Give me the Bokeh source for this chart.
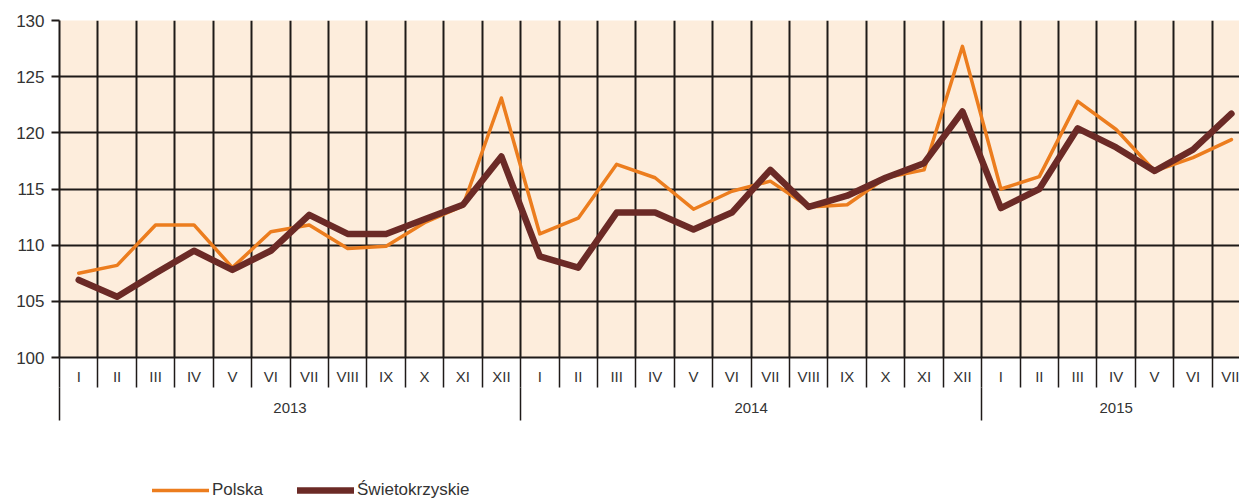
from bokeh.plotting import figure
from bokeh.layouts import column
from bokeh.models import Range1d, FixedTicker, LinearAxis, Legend, LegendItem, Grid
from bokeh.embed import file_html
from bokeh.resources import INLINE

# ---- data ----
month_names = ["I", "II", "III", "IV", "V", "VI", "VII", "VIII", "IX", "X", "XI", "XII"]
months = month_names * 2 + month_names[:7]
years = ["2013", "2014", "2015"]
year_lengths = [12, 12, 7]
polska = [107.5, 108.2, 111.8, 111.8, 108.0, 111.2, 111.8, 109.7, 109.9, 112.0, 113.5, 123.1,
          111.0, 112.4, 117.2, 116.0, 113.2, 114.8, 115.7, 113.4, 113.6, 116.0, 116.7, 127.7,
          115.0, 116.1, 122.8, 120.3, 116.6, 117.8, 119.4]
swietokrzyskie = [106.9, 105.4, 107.5, 109.5, 107.8, 109.5, 112.7, 111.0, 111.0, 112.3, 113.6, 117.9,
                  109.0, 108.0, 112.9, 112.9, 111.4, 112.9, 116.7, 113.4, 114.4, 116.0, 117.3, 121.9,
                  113.3, 115.0, 120.4, 118.7, 116.6, 118.5, 121.7]
y_ticks = [100, 105, 110, 115, 120, 125, 130]
series_names = ["Polska", "Świetokrzyskie"]
series_colors = ["#EC7D1E", "#6B2A26"]
series_widths = [3.5, 6.5]

n = len(months)
xc = [i + 0.5 for i in range(n)]
bounds = list(range(n))

year_starts, year_centers = [], []
s = 0
for L in year_lengths:
    year_starts.append(s)
    c = s + L / 2
    year_centers.append(int(c) if c == int(c) else c)
    s += L

FONT = "Liberation Sans"
TXT = "#333333"
GRID = "#1e1a18"

p = figure(width=1239, height=430, output_backend="svg", toolbar_location=None,
           x_range=Range1d(0, 30.71), y_range=Range1d(100, 130),
           min_border_left=59, min_border_right=0, min_border_top=20, min_border_bottom=73,
           x_axis_type=None)
p.background_fill_color = "#FDEDDC"
p.border_fill_color = "white"
p.outline_line_color = None

# y axis
p.yaxis.ticker = FixedTicker(ticks=y_ticks)
p.yaxis.axis_line_color = GRID
p.yaxis.axis_line_width = 2
p.yaxis.major_tick_out = 8
p.yaxis.major_tick_in = 0
p.yaxis.major_tick_line_color = GRID
p.yaxis.major_tick_line_width = 2
p.yaxis.minor_tick_line_color = None
p.yaxis.major_label_standoff = 7
p.yaxis.major_label_text_font = FONT
p.yaxis.major_label_text_font_size = "17px"
p.yaxis.major_label_text_color = TXT

# month axis (labels at centres, separators as minor ticks at boundaries)
month_axis = LinearAxis(ticker=FixedTicker(ticks=xc, minor_ticks=bounds),
                        major_label_overrides={x: m for x, m in zip(xc, months)})
month_axis.axis_line_color = GRID
month_axis.axis_line_width = 2
month_axis.major_tick_out = 0
month_axis.major_tick_in = 0
month_axis.major_tick_line_color = None
month_axis.minor_tick_out = 30
month_axis.minor_tick_in = 0
month_axis.minor_tick_line_color = GRID
month_axis.minor_tick_line_width = 1.5
month_axis.major_label_standoff = -20
month_axis.major_label_text_font = FONT
month_axis.major_label_text_font_size = "15px"
month_axis.major_label_text_color = TXT
p.add_layout(month_axis, "below")

# year axis
year_axis = LinearAxis(ticker=FixedTicker(ticks=year_centers, minor_ticks=year_starts),
                       major_label_overrides={x: y for x, y in zip(year_centers, years)})
year_axis.axis_line_color = None
year_axis.major_tick_out = 0
year_axis.major_tick_in = 0
year_axis.major_tick_line_color = None
year_axis.minor_tick_out = 33
year_axis.minor_tick_in = 0
year_axis.minor_tick_line_color = GRID
year_axis.minor_tick_line_width = 1.5
year_axis.major_label_standoff = -18
year_axis.major_label_text_font = FONT
year_axis.major_label_text_font_size = "15px"
year_axis.major_label_text_color = TXT
p.add_layout(year_axis, "below")

# grids
p.add_layout(Grid(dimension=0, ticker=FixedTicker(ticks=bounds),
                  grid_line_color=GRID, grid_line_width=2))
p.ygrid.ticker = FixedTicker(ticks=y_ticks)
p.ygrid.grid_line_color = GRID
p.ygrid.grid_line_width = 2

# series lines
for vals, col, w in zip([polska, swietokrzyskie], series_colors, series_widths):
    p.line(xc, vals, line_color=col, line_width=w, line_join="round", line_cap="round")

# legend strip below the chart (legend-only renderers hold no visible data)
lg = figure(width=1239, height=70, output_backend="svg", toolbar_location=None,
            x_axis_type=None, y_axis_type=None,
            min_border_left=0, min_border_right=0, min_border_top=0, min_border_bottom=0)
lg.outline_line_color = None
lg.xgrid.visible = False
lg.ygrid.visible = False
items = []
nan = float("nan")
for name, col, w in zip(series_names, series_colors, series_widths):
    r = lg.line([nan], [nan], line_color=col, line_width=w, line_cap="round")
    items.append(LegendItem(label=name, renderers=[r]))
legend = Legend(items=items, location=(93, 0), orientation="horizontal")
legend.background_fill_alpha = 0
legend.border_line_color = None
legend.padding = 0
legend.margin = 0
legend.glyph_width = 57
legend.glyph_height = 18
legend.label_standoff = 3
legend.spacing = 34
legend.label_text_font = FONT
legend.label_text_font_size = "17px"
legend.label_text_color = TXT
legend.label_height = 18
lg.add_layout(legend, "center")

open("out.html", "w").write(file_html(column(p, lg), INLINE))
